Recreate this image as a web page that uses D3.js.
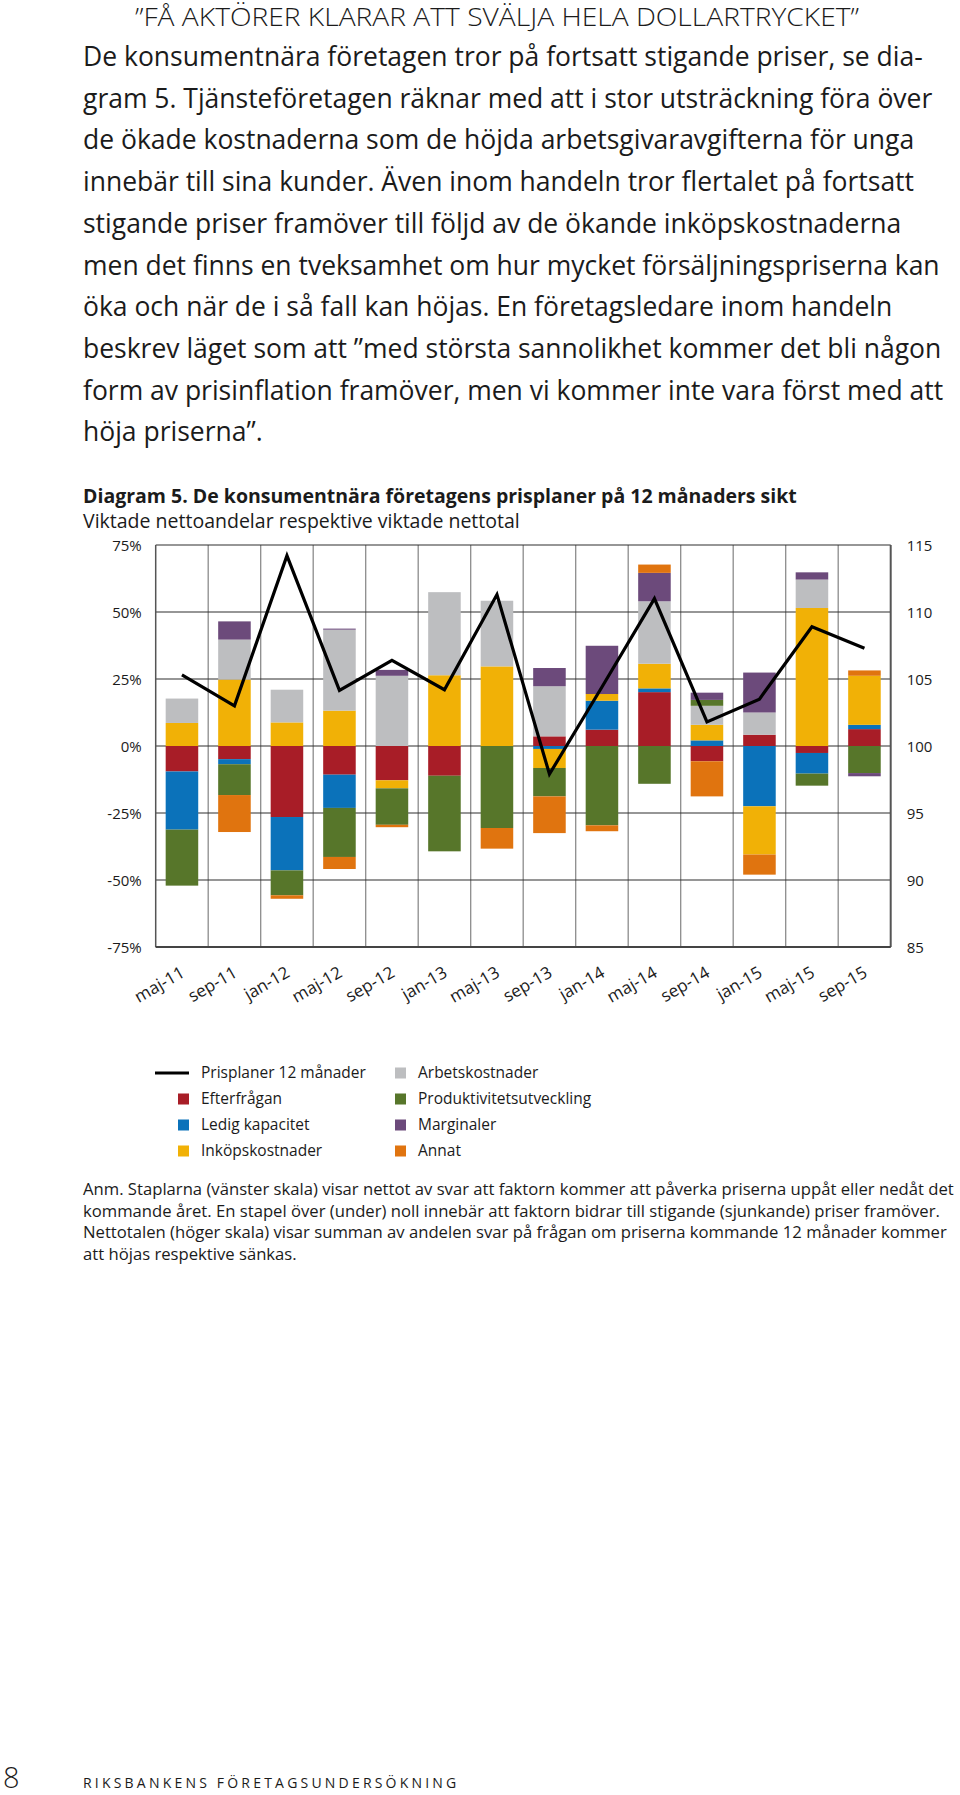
<!DOCTYPE html>
<html>
<head>
<meta charset="utf-8">
<script src="https://cdn.jsdelivr.net/npm/d3@7"></script>
<style>
  body { margin: 0; background: #fff; }
  svg { display: block; }
  text { font-family: "Open Sans", "Noto Sans", sans-serif; fill: #1b1b1b; }
</style>
</head>
<body>
<svg id="page" width="960" height="1795"></svg>
<script>
// --- data ---
const months = ["maj-11","sep-11","jan-12","maj-12","sep-12","jan-13","maj-13","sep-13","jan-14","maj-14","sep-14","jan-15","maj-15","sep-15"];
const prisplaner = [105.3, 103.0, 114.2, 104.15, 106.4, 104.2, 111.3, 97.9, 104.4, 111.0, 101.8, 103.5, 108.9, 107.3];

const seriesNames = ["Efterfrågan","Ledig kapacitet","Inköpskostnader","Arbetskostnader","Produktivitetsutveckling","Marginaler","Annat"];
const efterfragan   = [-9.5, -4.9, -26.5, -10.7, -12.8, -11.1, 0, 3.6, 6.1, 20.1, -5.7, 4.2, -2.6, 6.3];
const ledigKap      = [-21.7, -1.9, -19.9, -12.4, 0, 0, 0, -1.1, 10.8, 1.4, 2.1, -22.5, -7.7, 1.6];
const inkop         = [8.6, 24.8, 8.8, 13.2, -3.0, 26.4, 29.7, -7.1, 2.5, 9.2, 5.8, -18.0, 51.5, 18.3];
const arbetskost    = [9.1, 14.9, 12.2, 30.2, 26.2, 31.0, 24.5, 18.7, 0, 23.3, 7.1, 8.3, 10.6, 0];
const produktivitet = [-20.9, -11.5, -9.3, -18.3, -13.6, -28.2, -30.6, -10.6, -29.6, -14.1, 2.2, 0, -4.5, -10.1];
const marginaler    = [0, 6.8, 0, 0.4, 2.2, 0, 0, 6.8, 18.0, 10.6, 2.7, 14.9, 2.7, -1.2];
const annat         = [0, -13.8, -1.3, -4.5, -0.9, 0, -7.7, -13.7, -2.2, 3.1, -13.1, -7.5, 0, 2.0];

const leftTicks = [-75, -50, -25, 0, 25, 50, 75];
const rightTicks = [85, 90, 95, 100, 105, 110, 115];

const heading = "”FÅ AKTÖRER KLARAR ATT SVÄLJA HELA DOLLARTRYCKET”";
const bodyLines = [
  "De konsumentnära företagen tror på fortsatt stigande priser, se dia-",
  "gram 5. Tjänsteföretagen räknar med att i stor utsträckning föra över",
  "de ökade kostnaderna som de höjda arbetsgivaravgifterna för unga",
  "innebär till sina kunder. Även inom handeln tror flertalet på fortsatt",
  "stigande priser framöver till följd av de ökande inköpskostnaderna",
  "men det finns en tveksamhet om hur mycket försäljningspriserna kan",
  "öka och när de i så fall kan höjas. En företagsledare inom handeln",
  "beskrev läget som att ”med största sannolikhet kommer det bli någon",
  "form av prisinflation framöver, men vi kommer inte vara först med att",
  "höja priserna”."
];
const chartTitle = "Diagram 5. De konsumentnära företagens prisplaner på 12 månaders sikt";
const chartSub = "Viktade nettoandelar respektive viktade nettotal";
const anmLines = [
  "Anm. Staplarna (vänster skala) visar nettot av svar att faktorn kommer att påverka priserna uppåt eller nedåt det",
  "kommande året. En stapel över (under) noll innebär att faktorn bidrar till stigande (sjunkande) priser framöver.",
  "Nettotalen (höger skala) visar summan av andelen svar på frågan om priserna kommande 12 månader kommer",
  "att höjas respektive sänkas."
];

const colors = {
  "Efterfrågan": "#A81D27",
  "Ledig kapacitet": "#0B72BA",
  "Inköpskostnader": "#F1B106",
  "Arbetskostnader": "#BDBEC0",
  "Produktivitetsutveckling": "#57762A",
  "Marginaler": "#6C4A7B",
  "Annat": "#E0740F"
};

const svg = d3.select("#page");

function fitWidth(sel, target) {
  const w = sel.node().getComputedTextLength();
  const fs = parseFloat(sel.attr("font-size"));
  return fs * target / w;
}

// --- heading and body text ---
svg.append("text")
  .attr("x", 497).attr("y", 26)
  .attr("text-anchor", "middle")
  .attr("font-size", 25.5).attr("font-weight", 300)
  .attr("textLength", 724).attr("lengthAdjust", "spacingAndGlyphs")
  .text(heading);

const body = svg.append("g");
const first = body.append("text").attr("font-size", 24).text(bodyLines[0]);
const bodySize = fitWidth(first, 840);
first.remove();
body.selectAll("text")
  .data(bodyLines)
  .join("text")
  .attr("x", 83)
  .attr("y", (d, i) => 66 + i * 41.7)
  .attr("font-size", bodySize)
  .text(d => d);

const t1 = svg.append("text")
  .attr("x", 83).attr("y", 503)
  .attr("font-size", 18).attr("font-weight", 700)
  .text(chartTitle);
t1.attr("font-size", fitWidth(t1, 714));

const t2 = svg.append("text")
  .attr("x", 83).attr("y", 528)
  .attr("font-size", 16)
  .text(chartSub);
t2.attr("font-size", fitWidth(t2, 437));

// --- chart ---
const plot = { left: 155.7, right: 890.7, top: 545, bottom: 947 };

const x = d3.scaleBand()
  .domain(months)
  .range([plot.left, plot.right])
  .paddingInner(0.38)
  .paddingOuter(0.19);
const step = x.step();

const y = d3.scaleLinear().domain([-75, 75]).range([plot.bottom, plot.top]);
const y2 = d3.scaleLinear().domain([85, 115]).range([plot.bottom, plot.top]);

const table = months.map((m, i) => ({
  month: m,
  "Efterfrågan": efterfragan[i],
  "Ledig kapacitet": ledigKap[i],
  "Inköpskostnader": inkop[i],
  "Arbetskostnader": arbetskost[i],
  "Produktivitetsutveckling": produktivitet[i],
  "Marginaler": marginaler[i],
  "Annat": annat[i]
}));

const stacked = d3.stack().keys(seriesNames).offset(d3.stackOffsetDiverging)(table);

const chart = svg.append("g");

// vertical grid at category boundaries
chart.append("g")
  .selectAll("line")
  .data(d3.range(1, months.length))
  .join("line")
  .attr("x1", i => plot.left + i * step).attr("x2", i => plot.left + i * step)
  .attr("y1", plot.top).attr("y2", plot.bottom)
  .attr("stroke", "#8c8c8c").attr("stroke-width", 1.3);

// horizontal grid
chart.append("g")
  .selectAll("line")
  .data(leftTicks)
  .join("line")
  .attr("x1", plot.left).attr("x2", plot.right)
  .attr("y1", d => y(d)).attr("y2", d => y(d))
  .attr("stroke", "#2e2e2e").attr("stroke-width", 1.2);

// bars
chart.append("g")
  .selectAll("g")
  .data(stacked)
  .join("g")
  .attr("fill", d => colors[d.key])
  .selectAll("rect")
  .data(d => d)
  .join("rect")
  .attr("x", d => x(d.data.month))
  .attr("width", x.bandwidth())
  .attr("y", d => y(Math.max(d[0], d[1])))
  .attr("height", d => Math.abs(y(d[0]) - y(d[1])));

// frame
chart.append("line")
  .attr("x1", plot.left).attr("x2", plot.left)
  .attr("y1", plot.top).attr("y2", plot.bottom)
  .attr("stroke", "#555").attr("stroke-width", 1.5);
chart.append("line")
  .attr("x1", plot.right).attr("x2", plot.right)
  .attr("y1", plot.top).attr("y2", plot.bottom)
  .attr("stroke", "#555").attr("stroke-width", 2);
chart.append("line")
  .attr("x1", plot.left).attr("x2", plot.right)
  .attr("y1", plot.bottom).attr("y2", plot.bottom)
  .attr("stroke", "#444").attr("stroke-width", 2);

// line
const line = d3.line()
  .x((d, i) => x(months[i]) + x.bandwidth() / 2)
  .y(d => y2(d));
chart.append("path")
  .datum(prisplaner)
  .attr("fill", "none")
  .attr("stroke", "#000")
  .attr("stroke-width", 3.2)
  .attr("stroke-linejoin", "miter")
  .attr("d", line);

// axes labels
const leftAxis = svg.append("g")
  .attr("transform", `translate(${plot.left - 14},0)`)
  .call(d3.axisLeft(y).tickValues(leftTicks).tickSize(0).tickFormat(d => d + "%"));
leftAxis.select(".domain").remove();
leftAxis.selectAll("text").attr("font-size", 15).attr("font-family", "Open Sans").attr("fill", "#1b1b1b").attr("x", 0).attr("dy", "0.35em");

const rightAxis = svg.append("g")
  .attr("transform", `translate(${plot.right + 16},0)`)
  .call(d3.axisRight(y2).tickValues(rightTicks).tickSize(0));
rightAxis.select(".domain").remove();
rightAxis.selectAll("text").attr("font-size", 15).attr("font-family", "Open Sans").attr("fill", "#1b1b1b").attr("x", 0).attr("dy", "0.35em");

const bottomAxis = svg.append("g")
  .attr("transform", `translate(0,${plot.bottom})`)
  .call(d3.axisBottom(x).tickSize(0));
bottomAxis.select(".domain").remove();
bottomAxis.selectAll(".tick text")
  .attr("font-size", 17).attr("font-family", "Open Sans").attr("fill", "#1b1b1b")
  .attr("text-anchor", "end")
  .attr("y", 0).attr("dy", 0)
  .attr("transform", `translate(${x.bandwidth() / 2 + 4},29) rotate(-30)`);
bottomAxis.selectAll(".tick").attr("transform", d => `translate(${x(d)},0)`);

// legend
const legend = svg.append("g");
const rowY = [1073, 1099, 1125, 1151];
const leftCol = [{ name: "Prisplaner 12 månader", type: "line" }, ...seriesNames.slice(0, 3).map(n => ({ name: n, type: "box" }))];
const rightCol = seriesNames.slice(3).map(n => ({ name: n, type: "box" }));

function legendColumn(items, boxX, textX) {
  items.forEach((it, i) => {
    const yy = rowY[i];
    if (it.type === "line") {
      legend.append("line").attr("x1", 155).attr("x2", 189).attr("y1", yy).attr("y2", yy)
        .attr("stroke", "#000").attr("stroke-width", 3);
    } else {
      legend.append("rect").attr("x", boxX).attr("y", yy - 5.5).attr("width", 11).attr("height", 11)
        .attr("fill", colors[it.name]);
    }
    legend.append("text").attr("x", textX).attr("y", yy).attr("dy", "0.35em")
      .attr("font-size", 15.5).text(it.name);
  });
}
legendColumn(leftCol, 178, 201);
legendColumn(rightCol, 395, 418);

// note
const anm = svg.append("g");
const a0 = anm.append("text").attr("font-size", 15).text(anmLines[0]);
const anmSize = fitWidth(a0, 871);
a0.remove();
anm.selectAll("text")
  .data(anmLines)
  .join("text")
  .attr("x", 83)
  .attr("y", (d, i) => 1195 + i * 21.6)
  .attr("font-size", anmSize)
  .text(d => d);

// footer
svg.append("text").attr("x", 3).attr("y", 1788).attr("font-size", 29).attr("font-weight", 300).text("8");
svg.append("text").attr("x", 83).attr("y", 1788)
  .attr("font-size", 14).attr("letter-spacing", 3.2).attr("fill", "#333")
  .text("RIKSBANKENS FÖRETAGSUNDERSÖKNING");
</script>
</body>
</html>
